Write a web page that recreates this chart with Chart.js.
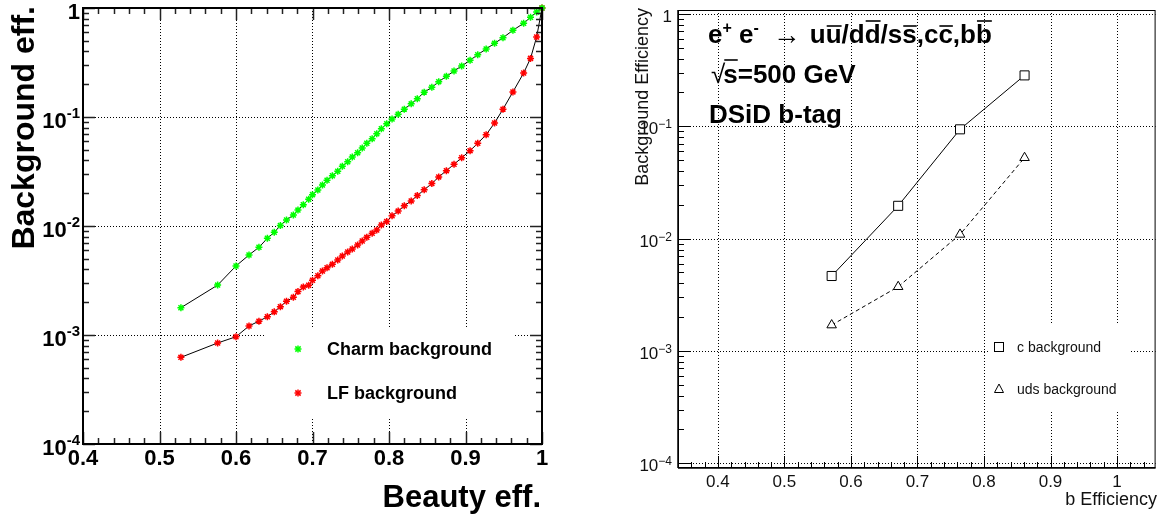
<!DOCTYPE html>
<html>
<head>
<meta charset="utf-8">
<script src="https://cdn.jsdelivr.net/npm/chart.js@4.4.1/dist/chart.umd.min.js"></script>
<style>
    body { margin: 0; background: #fff; }
    #wrap { position: relative; width: 1163px; height: 516px; }
    #leftChart { position: absolute; left: 0; top: 0; }
    #rightChart { position: absolute; left: 581px; top: 0; }
</style>
</head>
<body>
<div id="wrap">
    <canvas id="leftChart" width="581" height="516"></canvas>
    <canvas id="rightChart" width="582" height="516"></canvas>
</div>
<script>
// Left panel: background eff. vs beauty eff. (cut scan)
const beautyEff = [0.528, 0.576, 0.600, 0.617, 0.630, 0.641, 0.650, 0.658, 0.666, 0.675,
    0.681, 0.688, 0.695, 0.700, 0.707, 0.713, 0.719, 0.726, 0.733, 0.739,
    0.746, 0.752, 0.759, 0.765, 0.771, 0.778, 0.784, 0.790, 0.797, 0.804,
    0.812, 0.820, 0.829, 0.837, 0.846, 0.856, 0.865, 0.875, 0.885, 0.895,
    0.906, 0.916, 0.927, 0.938, 0.949, 0.962, 0.976, 0.985, 0.993, 1.000];
const charmBkg = [1.78e-3, 2.87e-3, 4.30e-3, 5.42e-3, 6.38e-3, 7.71e-3, 8.75e-3, 1.01e-2, 1.135e-2, 1.26e-2,
    1.40e-2, 1.57e-2, 1.76e-2, 1.94e-2, 2.14e-2, 2.38e-2, 2.63e-2, 2.89e-2, 3.18e-2, 3.53e-2,
    3.89e-2, 4.30e-2, 4.70e-2, 5.20e-2, 5.74e-2, 6.32e-2, 7.03e-2, 7.81e-2, 8.69e-2, 9.59e-2,
    0.106, 0.118, 0.132, 0.147, 0.169, 0.187, 0.211, 0.236, 0.264, 0.294,
    0.331, 0.373, 0.421, 0.474, 0.534, 0.624, 0.724, 0.822, 0.919, 1.0];
const lfBkg = [6.24e-4, 8.45e-4, 9.64e-4, 1.21e-3, 1.34e-3, 1.47e-3, 1.63e-3, 1.82e-3, 2.04e-3, 2.22e-3,
    2.50e-3, 2.75e-3, 2.86e-3, 3.18e-3, 3.50e-3, 3.86e-3, 4.14e-3, 4.45e-3, 4.88e-3, 5.31e-3,
    5.77e-3, 6.15e-3, 6.70e-3, 7.28e-3, 7.87e-3, 8.57e-3, 9.19e-3, 1.02e-2, 1.10e-2, 1.24e-2,
    1.37e-2, 1.53e-2, 1.70e-2, 1.90e-2, 2.15e-2, 2.45e-2, 2.82e-2, 3.22e-2, 3.68e-2, 4.23e-2,
    4.91e-2, 5.74e-2, 6.88e-2, 8.81e-2, 0.118, 0.170, 0.253, 0.345, 0.542, 1.0];
const leftXTicks = [0.4, 0.5, 0.6, 0.7, 0.8, 0.9, 1.0];
const leftXLabels = ['0.4', '0.5', '0.6', '0.7', '0.8', '0.9', '1'];

// log axis decades (shared by both panels)
const decadeTicks = [1, 1e-1, 1e-2, 1e-3, 1e-4];
const decadeExps = [0, -1, -2, -3, -4];

// Right panel: DSiD b-tag working points
const bEff = [0.571, 0.671, 0.764, 0.861];
const cBkg = [4.65e-3, 0.0196, 0.094, 0.284];
const udsBkg = [1.70e-3, 3.73e-3, 0.0109, 0.0525];
const rightXTicks = [0.4, 0.5, 0.6, 0.7, 0.8, 0.9, 1.0];
const rightXLabels = ['0.4', '0.5', '0.6', '0.7', '0.8', '0.9', '1'];

const FONT = '"Liberation Sans", Arial, Helvetica, sans-serif';

function pairs(xs, ys) {
    return xs.map(function (x, i) { return { x: x, y: ys[i] }; });
}

function line(ctx, x1, y1, x2, y2) {
    ctx.beginPath();
    ctx.moveTo(x1, y1);
    ctx.lineTo(x2, y2);
    ctx.stroke();
}

// minor ticks 2..9 and major at decades
function drawLogTicks(ctx, ys, x, dir, majorLen, minorLen) {
    for (let e = -5; e <= 0; e++) {
        for (let m = 1; m <= 9; m++) {
            const v = m * Math.pow(10, e);
            if (v < ys.min * 0.999 || v > ys.max * 1.001) continue;
            const py = Math.round(ys.getPixelForValue(v)) + 0.5;
            line(ctx, x, py, x + dir * (m === 1 ? majorLen : minorLen), py);
        }
    }
}

// ticks every 0.02, major every 0.1
function drawLinTicks(ctx, xs, y, dir, majorLen, minorLen) {
    const i0 = Math.ceil(xs.min / 0.02 - 1e-6);
    const i1 = Math.floor(xs.max / 0.02 + 1e-6);
    for (let i = i0; i <= i1; i++) {
        const px = Math.round(xs.getPixelForValue(i * 0.02)) + 0.5;
        line(ctx, px, y, px, y + dir * (i % 5 === 0 ? majorLen : minorLen));
    }
}

// "10^n" label, right aligned
function drawPowerLabel(ctx, exp, rightX, py, baseFont, supFont, baseDy, supDy, minus) {
    ctx.textAlign = 'left';
    if (exp === 0) {
        ctx.font = baseFont;
        ctx.fillText('1', rightX - ctx.measureText('1').width, py + baseDy);
        return;
    }
    const sup = minus + Math.abs(exp);
    ctx.font = supFont;
    const wSup = ctx.measureText(sup).width;
    ctx.font = baseFont;
    const wBase = ctx.measureText('10').width;
    const x0 = rightX - wSup - wBase;
    ctx.fillText('10', x0, py + baseDy);
    ctx.font = supFont;
    ctx.fillText(sup, x0 + wBase, py + supDy);
}

function drawStar(ctx, x, y, r, color) {
    ctx.save();
    ctx.strokeStyle = color;
    ctx.lineWidth = 1.5;
    line(ctx, x - r, y, x + r, y);
    line(ctx, x, y - r, x, y + r);
    const d = r * 0.75;
    line(ctx, x - d, y - d, x + d, y + d);
    line(ctx, x - d, y + d, x + d, y - d);
    ctx.restore();
}

// text with superscripts and overbars
function drawRich(ctx, segs, x, y, font, supFont) {
    segs.forEach(function (s) {
        ctx.font = s.font || (s.sup ? supFont : font);
        const yy = s.sup ? y - 10 : y;
        ctx.fillText(s.t, x, yy + (s.dy || 0));
        const w = ctx.measureText(s.t).width;
        if (s.bar) {
            ctx.save();
            ctx.lineWidth = 1.6;
            line(ctx, x + 1, y - s.bar, x + w, y - s.bar);
            ctx.restore();
        }
        x += w + (s.gap || 0);
    });
}

const leftDecor = {
    id: 'leftDecor',
    beforeDatasetsDraw: function (chart) {
        const ctx = chart.ctx;
        const a = chart.chartArea;
        const xs = chart.scales.x;
        const ys = chart.scales.y;
        ctx.save();
        ctx.strokeStyle = '#000';
        ctx.lineWidth = 1;
        ctx.setLineDash([1, 2]);
        leftXTicks.forEach(function (v) {
            if (v <= xs.min || v >= xs.max) return;
            const px = Math.round(xs.getPixelForValue(v)) + 0.5;
            line(ctx, px, a.top, px, a.bottom);
        });
        decadeTicks.forEach(function (v) {
            if (v <= ys.min || v >= ys.max) return;
            const py = Math.round(ys.getPixelForValue(v)) + 0.5;
            line(ctx, a.left, py, a.right, py);
        });
        ctx.setLineDash([]);
        // legend box hides the grid
        ctx.fillStyle = '#fff';
        ctx.fillRect(266, 327, 248, 90);
        ctx.restore();
    },
    afterDatasetsDraw: function (chart) {
        const ctx = chart.ctx;
        const a = chart.chartArea;
        const xs = chart.scales.x;
        const ys = chart.scales.y;
        ctx.save();
        ctx.strokeStyle = '#222';
        ctx.lineWidth = 1.5;
        drawLinTicks(ctx, xs, a.bottom, -1, 12, 6);
        drawLinTicks(ctx, xs, a.top, 1, 12, 6);
        drawLogTicks(ctx, ys, a.left, 1, 12, 6);
        drawLogTicks(ctx, ys, a.right, -1, 12, 6);
        ctx.strokeStyle = '#000';
        ctx.lineWidth = 2;
        ctx.strokeRect(a.left, a.top, a.right - a.left, a.bottom - a.top);

        ctx.fillStyle = '#000';
        ctx.textBaseline = 'alphabetic';
        ctx.textAlign = 'center';
        ctx.font = 'bold 22px ' + FONT;
        leftXTicks.forEach(function (v, i) {
            ctx.fillText(leftXLabels[i], xs.getPixelForValue(v), 465);
        });
        decadeTicks.forEach(function (v, i) {
            drawPowerLabel(ctx, decadeExps[i], 80, ys.getPixelForValue(v),
                'bold 22px ' + FONT, 'bold 15px ' + FONT, 11, 1, '-');
        });

        // axis titles
        ctx.font = 'bold 31px ' + FONT;
        ctx.textAlign = 'right';
        ctx.fillText('Beauty eff.', 541, 507);
        ctx.save();
        ctx.translate(34, 6);
        ctx.rotate(-Math.PI / 2);
        ctx.font = 'bold 32px ' + FONT;
        ctx.fillText('Background eff.', 0, 0);
        ctx.restore();

        // legend
        drawStar(ctx, 298, 349, 3.5, '#00ff00');
        drawStar(ctx, 298, 393, 3.5, '#ff0000');
        ctx.textAlign = 'left';
        ctx.font = 'bold 18px ' + FONT;
        ctx.fillText('Charm background', 327, 355);
        ctx.fillText('LF background', 327, 399);
        ctx.restore();
    }
};

const rightDecor = {
    id: 'rightDecor',
    beforeDatasetsDraw: function (chart) {
        const ctx = chart.ctx;
        const a = chart.chartArea;
        const xs = chart.scales.x;
        const ys = chart.scales.y;
        ctx.save();
        ctx.strokeStyle = '#000';
        ctx.lineWidth = 1;
        ctx.setLineDash([1, 2]);
        rightXTicks.forEach(function (v) {
            const px = Math.round(xs.getPixelForValue(v)) + 0.5;
            line(ctx, px, a.top, px, a.bottom);
        });
        decadeTicks.forEach(function (v) {
            const py = Math.round(ys.getPixelForValue(v)) + 0.5;
            line(ctx, a.left, py, a.right, py);
        });
        ctx.setLineDash([]);
        ctx.fillStyle = '#fff';
        ctx.fillRect(407, 323, 143, 87);
        ctx.restore();
    },
    afterDatasetsDraw: function (chart) {
        const ctx = chart.ctx;
        const a = chart.chartArea;
        const xs = chart.scales.x;
        const ys = chart.scales.y;
        ctx.save();
        ctx.strokeStyle = '#000';
        ctx.lineWidth = 1;
        drawLinTicks(ctx, xs, a.bottom, -1, 12, 6);
        drawLogTicks(ctx, ys, a.left, 1, 12, 6);
        ctx.strokeRect(a.left + 0.5, a.top + 0.5, a.right - a.left - 1, a.bottom - a.top - 1);
        ctx.lineWidth = 1.5;
        line(ctx, a.left, a.top, a.left, a.bottom);
        line(ctx, a.left, a.bottom, a.right, a.bottom);

        ctx.fillStyle = '#111';
        ctx.textAlign = 'center';
        ctx.font = '17px ' + FONT;
        rightXTicks.forEach(function (v, i) {
            ctx.fillText(rightXLabels[i], xs.getPixelForValue(v), 487);
        });
        decadeTicks.forEach(function (v, i) {
            drawPowerLabel(ctx, decadeExps[i], 91, ys.getPixelForValue(v),
                '17px ' + FONT, '12px ' + FONT, 8, 2, '\u2212');
        });

        ctx.font = '18px ' + FONT;
        ctx.textAlign = 'right';
        ctx.fillText('b Efficiency', 576, 505);
        ctx.save();
        ctx.translate(67, 8);
        ctx.rotate(-Math.PI / 2);
        ctx.fillText('Background Efficiency', 0, 0);
        ctx.restore();

        // process / energy / tagger text
        ctx.fillStyle = '#000';
        ctx.strokeStyle = '#000';
        ctx.textAlign = 'left';
        const big = 'bold 26px ' + FONT;
        const small = 'bold 16px ' + FONT;
        drawRich(ctx, [
            { t: 'e' }, { t: '+', sup: true }, { t: ' e' }, { t: '-', sup: true, gap: 14 },
            { t: '\u2192', font: '28px ' + FONT, gap: 9, dy: 1 },
            { t: 'u' }, { t: 'u', bar: 17 }, { t: '/' },
            { t: 'd' }, { t: 'd', bar: 22 }, { t: '/' },
            { t: 's' }, { t: 's', bar: 17 }, { t: ',' },
            { t: 'c' }, { t: 'c', bar: 17 }, { t: ',' },
            { t: 'b' }, { t: 'b', bar: 22 }
        ], 127, 43, big, small);
        drawRich(ctx, [
            { t: '\u221A', font: '26px ' + FONT, gap: -2 }, { t: 's', bar: 23 }, { t: '=500 GeV' }
        ], 130, 83, big, small);
        drawRich(ctx, [{ t: 'DSiD b-tag' }], 128, 123, big, small);

        // legend
        ctx.lineWidth = 1;
        ctx.strokeRect(413.5, 342.5, 9, 9);
        ctx.beginPath();
        ctx.moveTo(418, 384);
        ctx.lineTo(422.5, 392.5);
        ctx.lineTo(413.5, 392.5);
        ctx.closePath();
        ctx.stroke();
        ctx.fillStyle = '#111';
        ctx.font = '14px ' + FONT;
        ctx.fillText('c background', 436, 352);
        ctx.fillText('uds background', 436, 394);
        ctx.restore();
    }
};

function makeLeftChart() {
    const canvas = document.getElementById('leftChart');
    const data = {
        datasets: [{
            label: 'Charm background',
            data: pairs(beautyEff, charmBkg),
            showLine: true,
            borderColor: '#000',
            borderWidth: 1,
            pointStyle: 'star',
            pointRadius: 3.5,
            pointBorderWidth: 1.5,
            pointBorderColor: '#00ff00',
            pointBackgroundColor: '#00ff00',
            clip: false
        }, {
            label: 'LF background',
            data: pairs(beautyEff, lfBkg),
            showLine: true,
            borderColor: '#000',
            borderWidth: 1,
            pointStyle: 'star',
            pointRadius: 3.5,
            pointBorderWidth: 1.5,
            pointBorderColor: '#ff0000',
            pointBackgroundColor: '#ff0000',
            clip: false
        }]
    };
    const config = {
        type: 'scatter',
        data: data,
        options: {
            responsive: false,
            animation: false,
            devicePixelRatio: 1,
            events: [],
            layout: { padding: { left: 83, top: 8, right: 39, bottom: 72 } },
            scales: {
                x: { type: 'linear', min: 0.4, max: 1.0, display: false },
                y: { type: 'logarithmic', min: 1e-4, max: 1, display: false }
            },
            plugins: {
                legend: { display: false },
                tooltip: { enabled: false }
            }
        },
        plugins: [leftDecor]
    };
    return new Chart(canvas, config);
}

function makeRightChart() {
    const canvas = document.getElementById('rightChart');
    const data = {
        datasets: [{
            label: 'c background',
            data: pairs(bEff, cBkg),
            showLine: true,
            borderColor: '#000',
            borderWidth: 1,
            pointStyle: 'rect',
            pointRadius: 6.4,
            pointBorderWidth: 1,
            pointBorderColor: '#000',
            pointBackgroundColor: '#fff'
        }, {
            label: 'uds background',
            data: pairs(bEff, udsBkg),
            showLine: true,
            borderColor: '#000',
            borderWidth: 1,
            borderDash: [4, 3],
            pointStyle: 'triangle',
            pointRadius: 5.5,
            pointBorderWidth: 1,
            pointBorderColor: '#000',
            pointBackgroundColor: '#fff'
        }]
    };
    const config = {
        type: 'scatter',
        data: data,
        options: {
            responsive: false,
            animation: false,
            devicePixelRatio: 1,
            events: [],
            layout: { padding: { left: 97, top: 10, right: 6, bottom: 48 } },
            scales: {
                x: { type: 'linear', min: 0.34, max: 1.058, display: false },
                y: { type: 'logarithmic', min: 9.08e-5, max: 1.085, display: false }
            },
            plugins: {
                legend: { display: false },
                tooltip: { enabled: false }
            }
        },
        plugins: [rightDecor]
    };
    return new Chart(canvas, config);
}

makeLeftChart();
makeRightChart();
</script>
</body>
</html>
